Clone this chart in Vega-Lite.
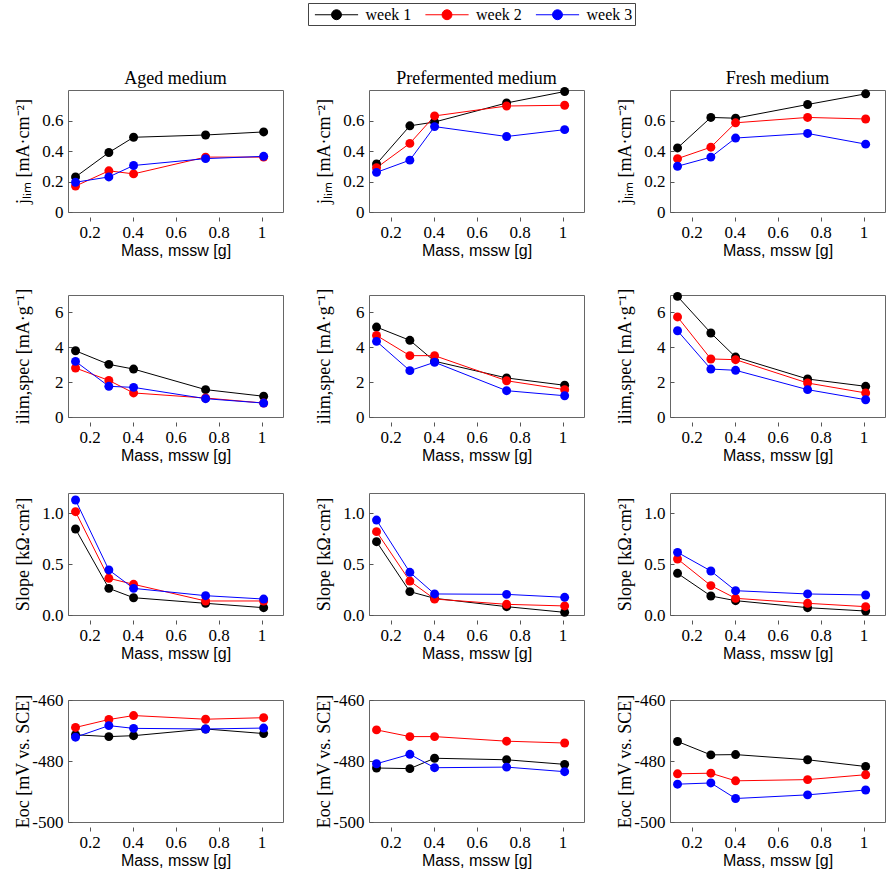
{
  "$schema": "https://vega.github.io/schema/vega-lite/v6.json",
  "background": "white",
  "padding": {"left": 13, "top": 2, "right": 4, "bottom": 2},
  "datasets": {
    "samples": [
      {"m": "Aged medium", "w": "week 1", "x": 0.135, "j": 0.23, "i": 3.8, "s": 0.846, "e": -471.4},
      {"m": "Aged medium", "w": "week 1", "x": 0.29, "j": 0.39, "i": 3.02, "s": 0.262, "e": -472.0},
      {"m": "Aged medium", "w": "week 1", "x": 0.405, "j": 0.49, "i": 2.75, "s": 0.17, "e": -471.7},
      {"m": "Aged medium", "w": "week 1", "x": 0.74, "j": 0.505, "i": 1.57, "s": 0.115, "e": -469.5},
      {"m": "Aged medium", "w": "week 1", "x": 1.01, "j": 0.525, "i": 1.19, "s": 0.072, "e": -471.0},
      {"m": "Aged medium", "w": "week 2", "x": 0.135, "j": 0.17, "i": 2.81, "s": 1.016, "e": -469.0},
      {"m": "Aged medium", "w": "week 2", "x": 0.29, "j": 0.27, "i": 2.1, "s": 0.361, "e": -466.4},
      {"m": "Aged medium", "w": "week 2", "x": 0.405, "j": 0.25, "i": 1.38, "s": 0.302, "e": -465.1},
      {"m": "Aged medium", "w": "week 2", "x": 0.74, "j": 0.36, "i": 1.09, "s": 0.138, "e": -466.3},
      {"m": "Aged medium", "w": "week 2", "x": 1.01, "j": 0.36, "i": 0.8, "s": 0.138, "e": -465.8},
      {"m": "Aged medium", "w": "week 3", "x": 0.135, "j": 0.195, "i": 3.19, "s": 1.131, "e": -472.2},
      {"m": "Aged medium", "w": "week 3", "x": 0.29, "j": 0.23, "i": 1.76, "s": 0.443, "e": -468.4},
      {"m": "Aged medium", "w": "week 3", "x": 0.405, "j": 0.305, "i": 1.7, "s": 0.262, "e": -469.3},
      {"m": "Aged medium", "w": "week 3", "x": 0.74, "j": 0.35, "i": 1.05, "s": 0.19, "e": -469.5},
      {"m": "Aged medium", "w": "week 3", "x": 1.01, "j": 0.365, "i": 0.8, "s": 0.157, "e": -469.2},
      {"m": "Prefermented medium", "w": "week 1", "x": 0.135, "j": 0.315, "i": 5.16, "s": 0.721, "e": -482.3},
      {"m": "Prefermented medium", "w": "week 1", "x": 0.29, "j": 0.565, "i": 4.4, "s": 0.23, "e": -482.5},
      {"m": "Prefermented medium", "w": "week 1", "x": 0.405, "j": 0.59, "i": 3.2, "s": 0.164, "e": -479.1},
      {"m": "Prefermented medium", "w": "week 1", "x": 0.74, "j": 0.715, "i": 2.24, "s": 0.082, "e": -479.6},
      {"m": "Prefermented medium", "w": "week 1", "x": 1.01, "j": 0.79, "i": 1.82, "s": 0.026, "e": -481.1},
      {"m": "Prefermented medium", "w": "week 2", "x": 0.135, "j": 0.29, "i": 4.68, "s": 0.82, "e": -469.8},
      {"m": "Prefermented medium", "w": "week 2", "x": 0.29, "j": 0.45, "i": 3.52, "s": 0.334, "e": -472.0},
      {"m": "Prefermented medium", "w": "week 2", "x": 0.405, "j": 0.63, "i": 3.52, "s": 0.157, "e": -472.0},
      {"m": "Prefermented medium", "w": "week 2", "x": 0.74, "j": 0.695, "i": 2.08, "s": 0.105, "e": -473.5},
      {"m": "Prefermented medium", "w": "week 2", "x": 1.01, "j": 0.7, "i": 1.57, "s": 0.089, "e": -474.1},
      {"m": "Prefermented medium", "w": "week 3", "x": 0.135, "j": 0.26, "i": 4.34, "s": 0.934, "e": -480.9},
      {"m": "Prefermented medium", "w": "week 3", "x": 0.29, "j": 0.34, "i": 2.66, "s": 0.42, "e": -477.8},
      {"m": "Prefermented medium", "w": "week 3", "x": 0.405, "j": 0.56, "i": 3.14, "s": 0.207, "e": -482.2},
      {"m": "Prefermented medium", "w": "week 3", "x": 0.74, "j": 0.495, "i": 1.51, "s": 0.203, "e": -482.0},
      {"m": "Prefermented medium", "w": "week 3", "x": 1.01, "j": 0.54, "i": 1.22, "s": 0.174, "e": -483.5},
      {"m": "Fresh medium", "w": "week 1", "x": 0.135, "j": 0.42, "i": 6.92, "s": 0.41, "e": -473.6},
      {"m": "Fresh medium", "w": "week 1", "x": 0.29, "j": 0.62, "i": 4.82, "s": 0.187, "e": -478.0},
      {"m": "Fresh medium", "w": "week 1", "x": 0.405, "j": 0.615, "i": 3.44, "s": 0.141, "e": -477.9},
      {"m": "Fresh medium", "w": "week 1", "x": 0.74, "j": 0.705, "i": 2.18, "s": 0.072, "e": -479.6},
      {"m": "Fresh medium", "w": "week 1", "x": 1.01, "j": 0.775, "i": 1.76, "s": 0.039, "e": -481.8},
      {"m": "Fresh medium", "w": "week 2", "x": 0.135, "j": 0.35, "i": 5.74, "s": 0.551, "e": -484.2},
      {"m": "Fresh medium", "w": "week 2", "x": 0.29, "j": 0.425, "i": 3.33, "s": 0.289, "e": -484.0},
      {"m": "Fresh medium", "w": "week 2", "x": 0.405, "j": 0.585, "i": 3.29, "s": 0.164, "e": -486.5},
      {"m": "Fresh medium", "w": "week 2", "x": 0.74, "j": 0.62, "i": 1.95, "s": 0.115, "e": -486.1},
      {"m": "Fresh medium", "w": "week 2", "x": 1.01, "j": 0.61, "i": 1.38, "s": 0.082, "e": -484.5},
      {"m": "Fresh medium", "w": "week 3", "x": 0.135, "j": 0.3, "i": 4.95, "s": 0.616, "e": -487.6},
      {"m": "Fresh medium", "w": "week 3", "x": 0.29, "j": 0.36, "i": 2.75, "s": 0.433, "e": -487.2},
      {"m": "Fresh medium", "w": "week 3", "x": 0.405, "j": 0.485, "i": 2.68, "s": 0.239, "e": -492.3},
      {"m": "Fresh medium", "w": "week 3", "x": 0.74, "j": 0.515, "i": 1.57, "s": 0.207, "e": -491.1},
      {"m": "Fresh medium", "w": "week 3", "x": 1.01, "j": 0.445, "i": 0.99, "s": 0.197, "e": -489.5}
    ]
  },
  "data": {"name": "samples"},
  "config": {
    "view": {"stroke": "#666", "strokeWidth": 1},
    "axis": {
      "grid": false,
      "domain": false,
      "tickColor": "#555",
      "tickSize": -4,
      "labelFont": "Liberation Serif",
      "labelFontSize": 17,
      "labelColor": "#000",
      "titleFont": "Liberation Serif",
      "titleFontSize": 18,
      "titleFontWeight": "normal",
      "titleColor": "#000"
    },
    "axisX": {"labelPadding": 7, "titleFont": "Liberation Sans", "titleFontSize": 16, "titlePadding": 2},
    "axisY": {"labelPadding": 9, "minExtent": 36, "maxExtent": 36, "titlePadding": 0},
    "header": {"labelFont": "Liberation Serif", "labelFontSize": 18, "labelColor": "#000", "labelPadding": -2},
    "legend": {
      "orient": "none",
      "legendX": 240,
      "legendY": -87,
      "direction": "horizontal",
      "columns": 3,
      "title": null,
      "strokeColor": "#444",
      "padding": 2,
      "labelFont": "Liberation Serif",
      "labelFontSize": 16,
      "labelColor": "#000",
      "labelOffset": 19.5,
      "symbolOffset": 17,
      "columnPadding": 8.5,
      "symbolSize": 324,
      "symbolType": "M-2.4,0H2.4M-0.55,0a0.55,0.55 0 1,0 1.1,0a0.55,0.55 0 1,0 -1.1,0"
    }
  },
  "spacing": 29,
  "vconcat": [
    {
      "facet": {"column": {"field": "m", "title": null, "sort": ["Aged medium", "Prefermented medium", "Fresh medium"]}},
      "spacing": 30,
      "resolve": {"axis": {"y": "independent"}},
      "spec": {
        "width": 215,
        "height": 122,
        "encoding": {
          "x": {"field": "x", "type": "quantitative", "scale": {"domain": [0.1, 1.1]}, "axis": {"values": [0.2, 0.4, 0.6, 0.8, 1], "format": "~g", "title": "Mass, mssw [g]"}},
          "y": {"field": "j", "type": "quantitative", "scale": {"domain": [0, 0.8]}, "axis": {"values": [0, 0.2, 0.4, 0.6], "format": "~g", "title": "jₗᵢₘ [mA·cm⁻²]"}},
          "color": {
            "field": "w",
            "type": "nominal",
            "scale": {"domain": ["week 1", "week 2", "week 3"], "range": ["#000000", "#ff0000", "#0000ff"]},
            "legend": {"encode": {"symbols": {"update": {"fill": {"scale": "color", "field": "value"}, "stroke": {"scale": "color", "field": "value"}, "strokeWidth": {"value": 1}}}}}
          }
        },
        "layer": [
          {"mark": {"type": "line", "strokeWidth": 1}},
          {"mark": {"type": "circle", "size": 80, "opacity": 1}}
        ]
      }
    },
    {
      "facet": {"column": {"field": "m", "title": null, "header": {"labels": false}, "sort": ["Aged medium", "Prefermented medium", "Fresh medium"]}},
      "spacing": 30,
      "resolve": {"axis": {"y": "independent"}},
      "spec": {
        "width": 215,
        "height": 122,
        "encoding": {
          "x": {"field": "x", "type": "quantitative", "scale": {"domain": [0.1, 1.1]}, "axis": {"values": [0.2, 0.4, 0.6, 0.8, 1], "format": "~g", "title": "Mass, mssw [g]"}},
          "y": {"field": "i", "type": "quantitative", "scale": {"domain": [0, 7]}, "axis": {"values": [0, 2, 4, 6], "format": "~g", "title": "ilim,spec [mA·g⁻¹]"}},
          "color": {"field": "w", "type": "nominal"}
        },
        "layer": [
          {"mark": {"type": "line", "strokeWidth": 1}},
          {"mark": {"type": "circle", "size": 80, "opacity": 1}}
        ]
      }
    },
    {
      "facet": {"column": {"field": "m", "title": null, "header": {"labels": false}, "sort": ["Aged medium", "Prefermented medium", "Fresh medium"]}},
      "spacing": 30,
      "resolve": {"axis": {"y": "independent"}},
      "spec": {
        "width": 215,
        "height": 122,
        "encoding": {
          "x": {"field": "x", "type": "quantitative", "scale": {"domain": [0.1, 1.1]}, "axis": {"values": [0.2, 0.4, 0.6, 0.8, 1], "format": "~g", "title": "Mass, mssw [g]"}},
          "y": {"field": "s", "type": "quantitative", "scale": {"domain": [0, 1.2]}, "axis": {"values": [0, 0.5, 1], "format": ".1f", "title": "Slope [kΩ·cm²]"}},
          "color": {"field": "w", "type": "nominal"}
        },
        "layer": [
          {"mark": {"type": "line", "strokeWidth": 1}},
          {"mark": {"type": "circle", "size": 80, "opacity": 1}}
        ]
      }
    },
    {
      "facet": {"column": {"field": "m", "title": null, "header": {"labels": false}, "sort": ["Aged medium", "Prefermented medium", "Fresh medium"]}},
      "spacing": 30,
      "resolve": {"axis": {"y": "independent"}},
      "spec": {
        "width": 215,
        "height": 122,
        "encoding": {
          "x": {"field": "x", "type": "quantitative", "scale": {"domain": [0.1, 1.1]}, "axis": {"values": [0.2, 0.4, 0.6, 0.8, 1], "format": "~g", "title": "Mass, mssw [g]"}},
          "y": {"field": "e", "type": "quantitative", "scale": {"domain": [-500, -460]}, "axis": {"values": [-500, -480, -460], "labelExpr": "'' + datum.value", "title": "Eoc [mV vs. SCE]"}},
          "color": {"field": "w", "type": "nominal"}
        },
        "layer": [
          {"mark": {"type": "line", "strokeWidth": 1}},
          {"mark": {"type": "circle", "size": 80, "opacity": 1}}
        ]
      }
    }
  ]
}
